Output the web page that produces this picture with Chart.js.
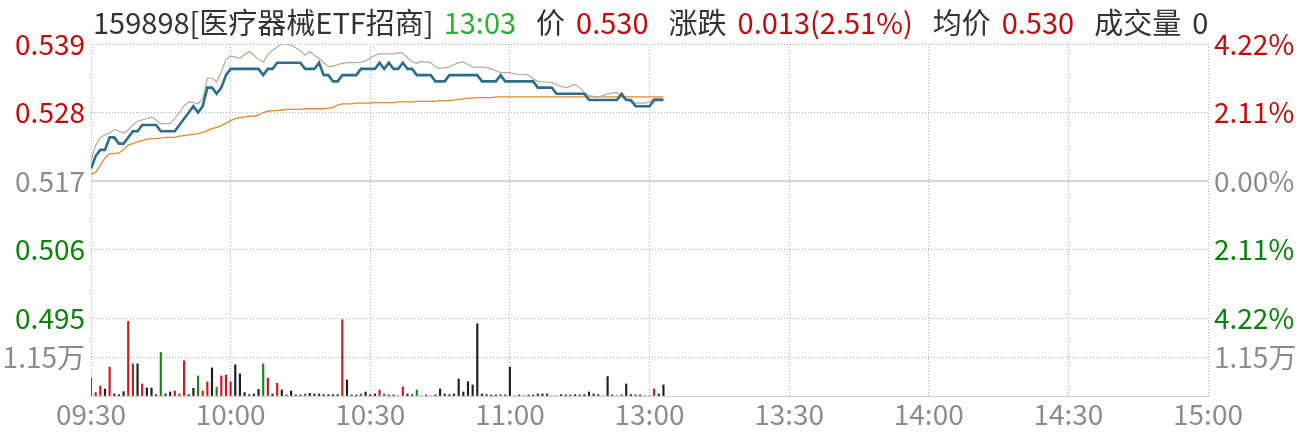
<!DOCTYPE html>
<html>
<head>
<meta charset="utf-8">
<script src="https://cdn.jsdelivr.net/npm/chart.js@4.4.1/dist/chart.umd.min.js"></script>
<style>
  body { margin: 0; background: #fff; }
  #wrap { position: relative; width: 1300px; height: 436px; }
  #title {
    position: absolute; left: 93px; top: 0; height: 42px; line-height: 42px;
    font-size: 29px; font-family: "Noto Sans CJK SC", "Noto Sans", sans-serif;
    color: #333; white-space: nowrap;
  }
  #title .g { color: #2fae36; }
  #title .r { color: #c40a0a; }
  #title .k { margin-left: 20px; }
  #title .v { margin-left: 11px; }
</style>
</head>
<body>
<div id="wrap">
  <canvas id="chart" width="1300" height="436"></canvas>
  <div id="title"><span>159898[医疗器械ETF招商]</span><span class="g" style="margin-left:10px">13:03</span><span class="k">价</span><span class="r v">0.530</span><span class="k">涨跌</span><span class="r v">0.013(2.51%)</span><span class="k">均价</span><span class="r v">0.530</span><span class="k">成交量</span><span class="v">0</span></div>
</div>
<script>
// minutes since 09:30 (0..120 morning, 121.. afternoon after 13:00)
const timeLabels = ["09:30", "10:00", "10:30", "11:00", "13:00", "13:30", "14:00", "14:30", "15:00"];
const prevClose = 0.517;
const priceTicks = [0.495, 0.506, 0.517, 0.528, 0.539];
const pctLabels = ["4.22%", "2.11%", "0.00%", "2.11%", "4.22%"];
const volTicks = [0, 11500, 23000];
const volTickLabels = ["", "1.15万", ""];

const price = [
  0.519, 0.521, 0.522, 0.522, 0.524, 0.524, 0.523, 0.523, 0.524, 0.525,
  0.525, 0.526, 0.526, 0.526, 0.526, 0.525, 0.525, 0.525, 0.525, 0.526,
  0.527, 0.528, 0.529, 0.528, 0.529, 0.532, 0.532, 0.531, 0.532, 0.534,
  0.535, 0.535, 0.535, 0.535, 0.535, 0.535, 0.535, 0.534, 0.535, 0.535,
  0.536, 0.536, 0.536, 0.536, 0.536, 0.536, 0.535, 0.535, 0.535, 0.536,
  0.534, 0.534, 0.533, 0.533, 0.534, 0.534, 0.534, 0.534, 0.535, 0.535,
  0.535, 0.535, 0.536, 0.535, 0.536, 0.535, 0.535, 0.536, 0.535, 0.535,
  0.534, 0.534, 0.534, 0.534, 0.533, 0.533, 0.533, 0.534, 0.534, 0.534,
  0.534, 0.534, 0.534, 0.534, 0.533, 0.533, 0.533, 0.533, 0.534, 0.533,
  0.533, 0.533, 0.533, 0.533, 0.533, 0.533, 0.532, 0.532, 0.532, 0.532,
  0.531, 0.531, 0.531, 0.531, 0.531, 0.531, 0.531, 0.530, 0.530, 0.530,
  0.530, 0.530, 0.530, 0.530, 0.531, 0.530, 0.530, 0.529, 0.529, 0.529,
  0.529, 0.530, 0.530, 0.530
];

const refPrice = [
  0.5203, 0.5227, 0.5240, 0.5244, 0.5247, 0.5253, 0.5250, 0.5247, 0.5252, 0.5260,
  0.5266, 0.5268, 0.5270, 0.5273, 0.5268, 0.5262, 0.5262, 0.5262, 0.5270, 0.5280,
  0.5291, 0.5297, 0.5296, 0.5294, 0.5302, 0.5335, 0.5335, 0.5329, 0.5345, 0.5365,
  0.5371, 0.5369, 0.5367, 0.5373, 0.5378, 0.5372, 0.5365, 0.5361, 0.5373, 0.5380,
  0.5385, 0.5390, 0.5390, 0.5388, 0.5384, 0.5379, 0.5372, 0.5378, 0.5372, 0.5367,
  0.5360, 0.5354, 0.5354, 0.5357, 0.5359, 0.5360, 0.5360, 0.5360, 0.5361, 0.5363,
  0.5367, 0.5372, 0.5374, 0.5374, 0.5374, 0.5374, 0.5376, 0.5375, 0.5368, 0.5361,
  0.5359, 0.5362, 0.5361, 0.5360, 0.5353, 0.5351, 0.5352, 0.5353, 0.5357, 0.5360,
  0.5361, 0.5357, 0.5353, 0.5353, 0.5353, 0.5352, 0.5350, 0.5347, 0.5344, 0.5344,
  0.5344, 0.5342, 0.5341, 0.5341, 0.5340, 0.5334, 0.5330, 0.5329, 0.5329, 0.5328,
  0.5325, 0.5322, 0.5320, 0.5322, 0.5325, 0.5320, 0.5312, 0.5307, 0.5306, 0.5305,
  0.5307, 0.5310, 0.5311, 0.5312, 0.5304, 0.5301, 0.5296, 0.5295, 0.5295, 0.5295,
  0.5297, 0.5303, 0.5303, 0.5302
];

const avgPrice = [
  0.5180, 0.5184, 0.5195, 0.5207, 0.5214, 0.5214, 0.5215, 0.5220, 0.5228, 0.5230,
  0.5233, 0.5235, 0.5237, 0.5238, 0.5238, 0.5239, 0.5240, 0.5240, 0.5240, 0.5242,
  0.5243, 0.5244, 0.5245, 0.5246, 0.5248, 0.5251, 0.5254, 0.5256, 0.5259, 0.5263,
  0.5267, 0.5270, 0.5272, 0.5273, 0.5274, 0.5274, 0.5276, 0.5280, 0.5282, 0.5283,
  0.5283, 0.5284, 0.5285, 0.5285, 0.5285, 0.5285, 0.5286, 0.5286, 0.5286, 0.5286,
  0.5286, 0.5287, 0.5288, 0.5292, 0.5294, 0.5294, 0.5294, 0.5295, 0.5295, 0.5295,
  0.5295, 0.5296, 0.5296, 0.5296, 0.5296, 0.5296, 0.5297, 0.5297, 0.5297, 0.5297,
  0.5298, 0.5298, 0.5298, 0.5298, 0.5298, 0.5299, 0.5299, 0.5299, 0.5300, 0.5301,
  0.5302, 0.5303, 0.5303, 0.5304, 0.5304, 0.5304, 0.5304, 0.5305, 0.5305, 0.5305,
  0.5305, 0.5305, 0.5305, 0.5305, 0.5305, 0.5305, 0.5305, 0.5305, 0.5305, 0.5305,
  0.5305, 0.5305, 0.5305, 0.5305, 0.5305, 0.5305, 0.5305, 0.5305, 0.5305, 0.5305,
  0.5305, 0.5305, 0.5305, 0.5305, 0.5305, 0.5305, 0.5305, 0.5305, 0.5305, 0.5305,
  0.5305, 0.5305, 0.5305, 0.5305
];

const volume = [
  5230, 990, 2960, 2070, 8490, 590, 400, 1280, 22000, 9480,
  9480, 3550, 2370, 2370, 400, 12830, 590, 1180, 1480, 590,
  10360, 400, 2270, 5920, 1480, 4150, 8290, 2570, 5920, 6220,
  4150, 9180, 6520, 990, 400, 590, 1970, 9480, 5230, 590,
  3750, 1780, 300, 1480, 300, 300, 590, 790, 590, 590,
  400, 400, 400, 400, 22500, 4740, 300, 300, 590, 1180,
  400, 590, 1780, 590, 300, 300, 0, 2670, 590, 400,
  1780, 0, 300, 0, 300, 2070, 590, 400, 590, 5030,
  1180, 4240, 3260, 21300, 590, 400, 300, 300, 400, 300,
  8490, 0, 300, 0, 300, 300, 590, 590, 590, 0,
  0, 400, 300, 300, 400, 300, 400, 1180, 590, 400,
  0, 5730, 300, 0, 400, 3550, 400, 300, 300, 0,
  0, 2070, 590, 3260
];

// u = up (red), d = down (green), f = flat (black)
const volDir = [
  "u","u","u","f","u","f","f","f","u","u",
  "f","u","f","f","f","d","f","f","u","u",
  "u","f","f","d","u","u","f","d","u","u",
  "u","f","f","f","f","f","f","d","u","f",
  "u","f","f","f","f","f","d","f","f","f",
  "f","f","f","f","u","f","f","f","u","f",
  "f","f","u","d","f","f","f","u","f","f",
  "d","f","f","f","f","f","f","f","f","f",
  "f","f","f","f","f","f","f","f","u","f",
  "f","f","f","f","f","f","f","f","f","f",
  "f","f","f","f","f","f","f","f","f","f",
  "f","f","f","f","d","f","f","f","f","f",
  "f","u","f","f"
];

const RED = "#c40a0a";
const GREEN = "#0a830a";
const GRAY = "#8c8c8c";
const GRID = "#b4b4b4";
const DIR_COLOR = { u: "#d0161c", d: "#128a12", f: "#1e1e1e" };

Chart.defaults.font.family = '"Noto Sans CJK SC", "Noto Sans", sans-serif';
Chart.defaults.font.size = 28;

function priceColor(ctx) {
  const v = ctx.tick.value;
  if (Math.abs(v - prevClose) < 1e-9) return GRAY;
  return v > prevClose ? RED : GREEN;
}
const setPriceTicks = s => { s.ticks = priceTicks.map(v => ({ value: v })); };
const setVolTicks = s => { s.ticks = volTicks.map(v => ({ value: v })); };
const xy = arr => arr.map((y, i) => ({ x: i, y }));

new Chart(document.getElementById("chart"), {
  type: "bar",
  data: {
    datasets: [
      { type: "line", label: "价", data: xy(price), yAxisID: "y",
        borderColor: "#2b6e8c", borderWidth: 2.6, pointRadius: 0, tension: 0, order: 0 },
      { type: "line", label: "参考", data: xy(refPrice), yAxisID: "y",
        borderColor: "#b5aa98", borderWidth: 1.2, pointRadius: 0, tension: 0, order: 1 },
      { type: "line", label: "均价", data: xy(avgPrice), yAxisID: "y",
        borderColor: "#e08a2a", borderWidth: 1.3, pointRadius: 0, tension: 0, order: 2 },
      { type: "line", label: "昨收", data: [{ x: 0, y: prevClose }, { x: 240, y: prevClose }], yAxisID: "y",
        borderColor: "#d6d6d6", borderWidth: 2, pointRadius: 0, order: 5 },
      { type: "bar", label: "成交量", data: xy(volume), yAxisID: "yv",
        backgroundColor: volDir.map(d => DIR_COLOR[d]), barThickness: 1.5, order: 3 }
    ]
  },
  options: {
    responsive: false,
    animation: false,
    devicePixelRatio: 1,
    layout: { padding: { top: 44, left: 0, right: 0, bottom: 0 } },
    plugins: { legend: { display: false }, tooltip: { enabled: false } },
    scales: {
      x: {
        type: "linear", min: 0, max: 240, offset: false,
        grid: { color: GRID, drawTicks: false, offset: false },
        border: { display: true, color: "#cfcfcf", width: 1, dash: [1, 2] },
        ticks: { stepSize: 30, autoSkip: false, maxRotation: 0, color: GRAY, padding: 2,
                 callback: v => timeLabels[Math.round(v / 30)] },
        afterFit: s => { s.height = 40; }
      },
      y: {
        position: "left", stack: "L", stackWeight: 274, weight: 1,
        min: 0.495, max: 0.539, afterBuildTicks: setPriceTicks,
        ticks: { color: priceColor, padding: 6, autoSkip: false, callback: v => v.toFixed(3) },
        grid: { drawTicks: false, color: ctx => (ctx.tick && Math.abs(ctx.tick.value - prevClose) < 1e-9) ? "rgba(0,0,0,0)" : GRID },
        border: { display: false, dash: [1, 2] },
        afterFit: s => { s.width = 91; }
      },
      yv: {
        position: "left", stack: "L", stackWeight: 78, weight: 0,
        min: 0, max: 23000, afterBuildTicks: setVolTicks,
        ticks: { color: GRAY, padding: 6, autoSkip: false, callback: (v, i) => volTickLabels[i] },
        grid: { drawTicks: false, color: ctx => (ctx.tick && ctx.tick.value > 0) ? GRID : "rgba(0,0,0,0)" },
        border: { display: false, dash: [1, 2] },
        afterFit: s => { s.width = 91; }
      },
      yp: {
        position: "right", stack: "R", stackWeight: 274, weight: 0,
        min: 0.495, max: 0.539, afterBuildTicks: setPriceTicks,
        ticks: { color: priceColor, padding: 6, autoSkip: false, callback: (v, i) => pctLabels[i] },
        grid: { drawOnChartArea: false, drawTicks: false },
        border: { display: false },
        afterFit: s => { s.width = 92; }
      },
      yv2: {
        position: "right", stack: "R", stackWeight: 78, weight: 1,
        min: 0, max: 23000, afterBuildTicks: setVolTicks,
        ticks: { color: GRAY, padding: 6, autoSkip: false, callback: (v, i) => volTickLabels[i] },
        grid: { drawOnChartArea: false, drawTicks: false },
        border: { display: false },
        afterFit: s => { s.width = 92; }
      }
    }
  }
});
</script>
</body>
</html>
